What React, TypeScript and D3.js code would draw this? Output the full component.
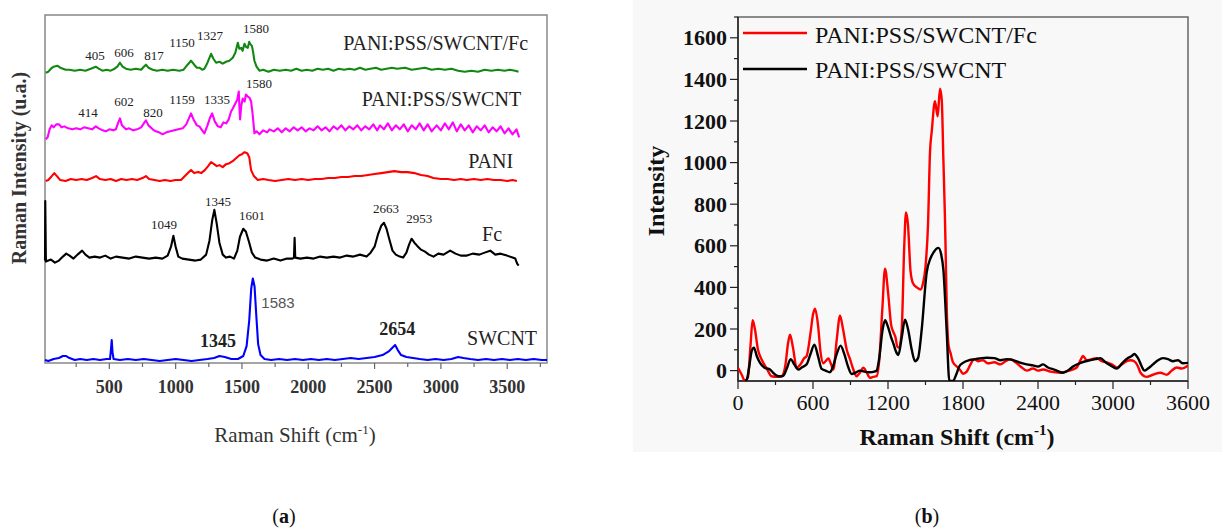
import React from "react";
import * as d3 from "d3";

type Pt = [number, number];

// ---------- panel (a): stacked Raman spectra (intensity above own baseline, a.u.) ----------
const swcnt: Pt[] = [
  [15, 0], [40, -1], [80, 1], [120, 2], [150, 4], [175, 4], [200, 2], [240, 0], [280, 1], [330, 0],
  [380, 1], [430, 0], [480, 1], [505, 1], [512, 10], [518, 20], [524, 8], [532, 1], [580, 0], [640, 1],
  [700, 0], [760, 1], [820, 0], [880, -1], [940, 0], [1000, 1], [1060, 0], [1120, -1], [1180, 0], [1240, 1],
  [1290, 2], [1330, 4], [1370, 3], [1420, 1], [1470, 1], [1510, 4], [1535, 14], [1555, 40], [1570, 72], [1582, 82],
  [1595, 74], [1608, 45], [1622, 16], [1640, 5], [1670, 1], [1720, 0], [1780, 1], [1840, 0], [1900, 1], [1960, 0],
  [2020, 1], [2080, 0], [2140, 1], [2200, 0], [2260, 1], [2320, 2], [2380, 1], [2440, 2], [2500, 3], [2560, 5],
  [2610, 9], [2640, 13], [2655, 15], [2675, 10], [2700, 5], [2740, 3], [2790, 2], [2840, 1], [2900, 0], [2960, 1],
  [3020, 0], [3080, 1], [3130, 3], [3170, 2], [3220, 1], [3280, 0], [3340, 1], [3400, 0], [3460, 1], [3520, 0],
  [3580, 1], [3640, 0], [3700, 1], [3760, 0], [3800, 0],
];

const fc: Pt[] = [
  [15, -2], [17, 58], [22, -3], [40, -2], [60, -1], [90, -4], [120, -2], [150, 2], [175, 5], [200, 3],
  [230, 0], [260, 4], [295, 8], [320, 4], [350, 1], [390, 2], [430, 1], [470, 3], [510, 0], [550, 2],
  [600, 1], [650, 0], [700, 2], [750, 1], [800, 0], [850, 1], [900, 0], [940, 3], [965, 12], [983, 23],
  [1000, 12], [1020, 2], [1050, 0], [1100, -1], [1150, -2], [1190, -1], [1230, 4], [1255, 18], [1275, 38], [1292, 49],
  [1310, 35], [1330, 16], [1355, 4], [1380, 1], [1410, 2], [1440, 0], [1465, 8], [1485, 22], [1510, 30], [1530, 27],
  [1555, 16], [1575, 6], [1600, 1], [1640, -1], [1690, -2], [1740, 0], [1790, -2], [1840, 0], [1880, 0], [1892, 1],
  [1897, 21], [1902, 1], [1940, 0], [1990, 1], [2040, 0], [2090, 2], [2140, 1], [2190, 2], [2240, 1], [2290, 3],
  [2340, 2], [2390, 4], [2440, 2], [2470, 6], [2500, 12], [2525, 24], [2550, 33], [2571, 36], [2590, 30], [2610, 20],
  [2635, 8], [2660, 4], [2690, 2], [2715, 1], [2740, 6], [2760, 14], [2779, 20], [2800, 16], [2820, 13], [2850, 9],
  [2880, 7], [2910, 4], [2944, 2], [2980, 5], [3020, 4], [3070, 8], [3110, 5], [3150, 3], [3196, 3], [3240, 5],
  [3290, 4], [3330, 6], [3372, 8], [3410, 4], [3450, 5], [3498, 3], [3540, 1], [3561, 0], [3575, -5], [3586, -7],
];

const pani: Pt[] = [
  [20, 0], [40, 1], [60, 4], [85, 8], [105, 5], [130, 1], [170, 0], [210, 2], [250, 1], [290, 2],
  [330, 1], [370, 3], [400, 5], [430, 2], [470, 1], [510, 2], [550, 0], [590, 2], [630, 1], [670, 2],
  [710, 1], [750, 3], [776, 5], [800, 2], [840, 1], [880, 0], [920, 1], [960, 0], [1000, 1], [1040, 1],
  [1070, 5], [1100, 9], [1116, 11], [1140, 8], [1170, 9], [1192, 8], [1220, 11], [1245, 15], [1267, 19], [1290, 17],
  [1310, 15], [1330, 16], [1355, 14], [1380, 17], [1406, 18], [1430, 20], [1455, 23], [1481, 26], [1500, 27], [1520, 29],
  [1540, 28], [1555, 24], [1569, 11], [1590, 5], [1620, 1], [1660, 2], [1700, 1], [1750, 0], [1800, 1], [1850, 2],
  [1900, 1], [1950, 2], [2000, 1], [2050, 2], [2100, 2], [2150, 3], [2200, 3], [2250, 4], [2300, 4], [2350, 5],
  [2400, 5], [2450, 6], [2500, 7], [2550, 8], [2600, 9], [2650, 10], [2700, 9], [2750, 9], [2800, 8], [2850, 6],
  [2900, 5], [2943, 3], [3000, 2], [3050, 2], [3100, 1], [3150, 2], [3195, 1], [3250, 2], [3300, 1], [3350, 2],
  [3400, 1], [3450, 1], [3500, 0], [3540, 1], [3573, 0],
];

const paniPssSwcnt: Pt[] = [
  [20, -8], [35, -6], [50, 2], [65, 6], [80, 4], [100, 7], [121, 7], [140, 4], [160, 5], [190, 3],
  [222, 2], [250, 3], [280, 2], [310, 4], [340, 3], [370, 2], [398, 5], [420, 3], [450, 1], [474, 0],
  [500, 2], [530, 1], [549, 2], [565, 8], [580, 13], [595, 6], [625, 2], [650, 3], [680, 1], [710, 2],
  [740, 4], [760, 8], [776, 11], [795, 6], [827, 2], [850, 0], [875, -1], [902, -3], [930, -1], [960, 0],
  [990, 1], [1020, 2], [1053, 3], [1080, 7], [1100, 13], [1116, 18], [1135, 12], [1160, 6], [1179, 5], [1200, 1],
  [1217, -2], [1240, 6], [1260, 14], [1275, 18], [1295, 10], [1318, 5], [1340, 4], [1360, 9], [1381, 8], [1400, 12],
  [1418, 20], [1431, 23], [1450, 28], [1465, 32], [1476, 40], [1481, 24], [1486, 12], [1495, 26], [1506, 33], [1520, 30],
  [1530, 37], [1544, 35], [1556, 34], [1569, 30], [1580, 18], [1594, -2], [1610, 0], [1632, -3], [1660, 1], [1690, -1],
  [1708, 2], [1740, 0], [1770, 3], [1800, -1], [1830, 3], [1860, 0], [1890, 4], [1920, 1], [1950, 4], [1980, 0],
  [2010, 3], [2040, 1], [2070, 5], [2100, 1], [2130, 4], [2160, 0], [2190, 5], [2220, 2], [2250, 6], [2280, 1],
  [2310, 5], [2340, 2], [2370, 6], [2400, 1], [2430, 5], [2460, 2], [2490, 7], [2520, 1], [2541, 6], [2570, 2],
  [2600, 8], [2630, 1], [2660, 6], [2690, 2], [2720, 7], [2750, 0], [2780, 6], [2810, 2], [2840, 8], [2870, 1],
  [2900, 7], [2930, 0], [2968, 6], [3000, 1], [3030, 8], [3060, 2], [3090, 9], [3120, 0], [3150, 7], [3180, 1],
  [3210, 6], [3240, -1], [3270, 5], [3300, 1], [3330, 6], [3360, -1], [3390, 4], [3420, 0], [3450, 5], [3480, -2],
  [3510, 3], [3540, -3], [3570, 2], [3590, -6],
];

const paniPssSwcntFc: Pt[] = [
  [20, -2], [40, -1], [60, 2], [80, 4], [108, 5], [130, 3], [171, 1], [200, 1], [240, 0], [280, 1],
  [320, 0], [360, 2], [398, 4], [420, 2], [448, 0], [480, 1], [510, 0], [540, 2], [560, 4], [580, 8],
  [600, 4], [625, 2], [660, 1], [700, 2], [740, 1], [760, 4], [776, 6], [795, 3], [827, 1], [860, 0],
  [900, 1], [940, 0], [980, 1], [1028, 0], [1060, 1], [1090, 6], [1116, 10], [1140, 6], [1160, 3], [1179, 3],
  [1200, 1], [1217, 2], [1240, 8], [1267, 17], [1285, 12], [1305, 8], [1330, 9], [1355, 7], [1380, 9], [1405, 10],
  [1431, 13], [1450, 18], [1469, 28], [1480, 22], [1494, 23], [1505, 20], [1519, 27], [1530, 24], [1544, 23], [1555, 29],
  [1562, 27], [1575, 25], [1585, 18], [1594, 10], [1610, 4], [1632, 0], [1660, 1], [1700, -1], [1740, 1], [1785, 0],
  [1830, 1], [1870, 0], [1910, 2], [1950, 0], [1990, 1], [2030, 0], [2070, 2], [2110, 1], [2150, 2], [2190, 0],
  [2230, 2], [2270, 1], [2310, 2], [2350, 1], [2390, 3], [2430, 1], [2470, 2], [2510, 3], [2550, 1], [2590, 2],
  [2630, 3], [2670, 2], [2730, 3], [2780, 1], [2830, 2], [2880, 3], [2930, 1], [2980, 2], [3030, 1], [3080, 2],
  [3130, 0], [3180, -1], [3230, 0], [3280, -1], [3330, 1], [3380, 0], [3430, 1], [3480, 0], [3520, 1], [3560, 0],
  [3585, -1],
];

const stackSeries = [
  { name: "SWCNT", data: swcnt, offset: 3, color: "#0000ff" },
  { name: "Fc", data: fc, offset: 105, color: "#000000" },
  { name: "PANI", data: pani, offset: 183, color: "#ff0000" },
  { name: "PANI:PSS/SWCNT", data: paniPssSwcnt, offset: 233, color: "#ff00ff" },
  { name: "PANI:PSS/SWCNT/Fc", data: paniPssSwcntFc, offset: 294, color: "#118811" },
];

// series names, right aligned: [text, shift end, level]
const seriesNames: [string, number, number][] = [
  ["PANI:PSS/SWCNT/Fc", 3657, 315],
  ["PANI:PSS/SWCNT", 3605, 258],
  ["PANI", 3544, 196],
  ["Fc", 3461, 123],
  ["SWCNT", 3725, 18],
];

// peak annotations: [text, shift, level]
const peakLabels: [string, number, number][] = [
  ["405", 392, 305], ["606", 611, 308], ["817", 837, 305], ["1150", 1048, 318], ["1327", 1259, 325], ["1580", 1606, 332],
  ["414", 339, 247], ["602", 611, 258], ["820", 829, 247], ["1159", 1048, 260], ["1335", 1312, 260], ["1580", 1629, 277],
  ["1049", 912, 135], ["1345", 1320, 158], ["1601", 1576, 144], ["2663", 2587, 151], ["2953", 2836, 141],
];
const swcntLabelsBold: [string, number, number][] = [["1345", 1320, 16], ["2654", 2670, 28]];
const swcntLabelGray: [string, number, number] = ["1583", 1772, 55];

// ---------- panel (b) ----------
const bRed: Pt[] = [
  [0, 14], [30, -20], [56, -50], [80, -30], [100, 120], [117, 242], [135, 200], [160, 100], [189, 53], [230, 10],
  [269, -27], [310, -30], [349, -27], [380, 30], [400, 130], [416, 173], [440, 110], [469, 14], [500, 30], [530, 60],
  [549, 70], [580, 180], [600, 270], [616, 298], [640, 220], [660, 90], [683, 35], [700, 45], [723, 58], [745, 30],
  [763, 5], [790, 150], [816, 264], [840, 200], [870, 100], [896, 55], [920, 10], [949, -27], [975, -10], [1003, 14],
  [1030, -10], [1056, -35], [1080, -30], [1109, -27], [1130, 50], [1155, 300], [1176, 490], [1200, 380], [1225, 220], [1243, 185],
  [1260, 160], [1275, 115], [1290, 110], [1310, 200], [1330, 600], [1344, 760], [1360, 700], [1380, 480], [1400, 420], [1430, 400],
  [1460, 390], [1480, 420], [1500, 500], [1520, 700], [1536, 1050], [1550, 1150], [1576, 1295], [1597, 1222], [1616, 1355], [1630, 1300],
  [1643, 1015], [1655, 750], [1661, 580], [1670, 300], [1685, 120], [1700, 85], [1720, 40], [1750, 20], [1780, 0], [1800, -15],
  [1830, -5], [1860, 30], [1890, 55], [1920, 45], [1960, 50], [2000, 35], [2050, 40], [2100, 30], [2140, 45], [2180, 55],
  [2220, 40], [2260, 20], [2310, 0], [2360, 10], [2400, 0], [2440, 5], [2500, -5], [2580, -10], [2650, 0], [2710, 15],
  [2740, 50], [2760, 70], [2790, 50], [2830, 55], [2870, 60], [2910, 45], [2950, 40], [2990, 30], [3030, 15], [3070, 30],
  [3110, 45], [3140, 50], [3170, 45], [3200, 20], [3220, -10], [3270, -30], [3320, -20], [3380, -10], [3430, -20], [3470, 0],
  [3510, 15], [3550, 10], [3600, 25],
];

const bBlack: Pt[] = [
  [56, -50], [72, -40], [90, 20], [110, 95], [128, 110], [150, 70], [176, 37], [210, 15], [256, 5], [280, -10],
  [309, -24], [340, -28], [363, -24], [390, 10], [421, 55], [450, 30], [483, 5], [510, 15], [549, 30], [580, 80],
  [611, 125], [640, 70], [669, 8], [700, 0], [736, -8], [760, 20], [790, 80], [821, 120], [850, 80], [880, 20],
  [909, -16], [940, -10], [976, 0], [1010, -5], [1056, -8], [1090, -5], [1109, 0], [1130, 60], [1155, 190], [1176, 242],
  [1200, 210], [1225, 160], [1243, 130], [1265, 90], [1283, 75], [1310, 160], [1336, 245], [1360, 200], [1390, 100], [1416, 45],
  [1440, 60], [1470, 200], [1509, 470], [1540, 540], [1563, 567], [1603, 590], [1625, 560], [1643, 485], [1669, 197], [1691, -50],
  [1720, -50], [1745, -20], [1770, 20], [1800, 37], [1850, 50], [1900, 55], [1950, 60], [1990, 62], [2050, 60], [2100, 50],
  [2150, 55], [2200, 50], [2250, 40], [2310, 30], [2360, 25], [2400, 20], [2440, 30], [2480, 15], [2530, 5], [2600, -10],
  [2640, 0], [2680, 20], [2740, 37], [2780, 45], [2820, 50], [2860, 55], [2900, 60], [2940, 40], [2980, 25], [3030, 10],
  [3080, 40], [3120, 60], [3150, 70], [3170, 80], [3200, 60], [3230, 20], [3250, 0], [3280, 10], [3320, 30], [3360, 50],
  [3400, 60], [3440, 55], [3480, 45], [3520, 50], [3560, 35], [3600, 37],
];

const bSeries = [
  { name: "PANI:PSS/SWCNT/Fc", data: bRed, color: "#ff0000" },
  { name: "PANI:PSS/SWCNT", data: bBlack, color: "#000000" },
];

const FONT = "'Liberation Serif', 'Times New Roman', serif";

const xA = d3.scaleLinear().domain([15, 3800]).range([45, 547]);
const yA = d3.scaleLinear().domain([0, 350]).range([363, 15]);
const xB = d3.scaleLinear().domain([0, 3600]).range([738, 1188]);
const yB = d3.scaleLinear().domain([-50, 1700]).range([381, 17]);

const App = () => {
  const aTicks = d3.range(250, 3800, 250);
  const bxTicks = d3.range(0, 3601, 300);
  const byTicks = d3.range(0, 1701, 100);
  const lineB = d3
    .line<Pt>()
    .x((d) => xB(d[0]))
    .y((d) => yB(d[1]))
    .curve(d3.curveMonotoneX);

  return (
    <svg
      width={1222}
      height={529}
      style={{ position: "absolute", left: 0, top: 0, background: "#fff" }}
      fontFamily={FONT}
    >
      <defs>
        <clipPath id="clipB">
          <rect x={xB(0)} y={yB(1700)} width={xB(3600) - xB(0)} height={yB(-50) - yB(1700)} />
        </clipPath>
      </defs>

      {/* ---------------- panel (a) ---------------- */}
      <rect x={45} y={15} width={502} height={348} fill="none" stroke="#888" strokeWidth={1.5} />
      {aTicks.map((t) => (
        <line key={t} x1={xA(t)} x2={xA(t)} y1={363} y2={t % 500 === 0 ? 369 : 367} stroke="#666" strokeWidth={1.2} />
      ))}
      {aTicks
        .filter((t) => t % 500 === 0)
        .map((t) => (
          <text key={t} x={xA(t)} y={393} textAnchor="middle" fontSize={18} fontWeight="bold" fill="#333">
            {t}
          </text>
        ))}
      {stackSeries.map((s) => {
        const line = d3
          .line<Pt>()
          .x((d) => xA(d[0]))
          .y((d) => yA(d[1] + s.offset));
        return <path key={s.name} d={line(s.data) || ""} fill="none" stroke={s.color} strokeWidth={2.1} strokeLinejoin="round" />;
      })}
      {seriesNames.map(([t, x, y]) => (
        <text key={t} x={xA(x)} y={yA(y)} textAnchor="end" fontSize={20} fill="#222">
          {t}
        </text>
      ))}
      {peakLabels.map(([t, x, y], i) => (
        <text key={i} x={xA(x)} y={yA(y)} textAnchor="middle" fontSize={13} fill="#222">
          {t}
        </text>
      ))}
      {swcntLabelsBold.map(([t, x, y]) => (
        <text key={t} x={xA(x)} y={yA(y)} textAnchor="middle" fontSize={18} fontWeight="bold" fill="#222">
          {t}
        </text>
      ))}
      <text x={xA(swcntLabelGray[1])} y={yA(swcntLabelGray[2])} textAnchor="middle" fontSize={15} fill="#555" fontFamily="'Liberation Sans', Arial, sans-serif">
        {swcntLabelGray[0]}
      </text>
      <text transform="translate(26,168) rotate(-90)" textAnchor="middle" fontSize={20} fontWeight="bold" fill="#333">
        Raman Intensity (u.a.)
      </text>
      <text x={295} y={442} textAnchor="middle" fontSize={21} fill="#333">
        Raman Shift (cm
        <tspan fontSize={13} dy={-8}>-1</tspan>
        <tspan dy={8}>)</tspan>
      </text>

      {/* ---------------- panel (b) ---------------- */}
      <rect x={633} y={0} width={589} height={452} fill="#f8f8f8" />
      <rect x={738} y={17} width={450} height={364} fill="none" stroke="#666" strokeWidth={1.5} />
      <line x1={738} x2={738} y1={17} y2={381} stroke="#222" strokeWidth={1.5} />
      <line x1={738} x2={1188} y1={381} y2={381} stroke="#222" strokeWidth={1.5} />
      {byTicks.map((t) => (
        <line key={t} x1={738} x2={t % 200 === 0 ? 730 : 734} y1={yB(t)} y2={yB(t)} stroke="#222" strokeWidth={1.2} />
      ))}
      {byTicks
        .filter((t) => t % 200 === 0)
        .map((t) => (
          <text key={t} x={727} y={yB(t) + 7.5} textAnchor="end" fontSize={22} fontWeight="bold" fill="#111">
            {t}
          </text>
        ))}
      {bxTicks.map((t) => (
        <line key={t} x1={xB(t)} x2={xB(t)} y1={381} y2={t % 600 === 0 ? 389 : 385} stroke="#222" strokeWidth={1.2} />
      ))}
      {bxTicks
        .filter((t) => t % 600 === 0)
        .map((t) => (
          <text key={t} x={xB(t)} y={410} textAnchor="middle" fontSize={22} fill="#111">
            {t}
          </text>
        ))}
      <g clipPath="url(#clipB)">
        {bSeries.map((s) => (
          <path key={s.name} d={lineB(s.data) || ""} fill="none" stroke={s.color} strokeWidth={2.4} strokeLinejoin="round" />
        ))}
      </g>
      {bSeries.map((s, i) => (
        <g key={s.name}>
          <line x1={743} x2={807} y1={33 + i * 36} y2={33 + i * 36} stroke={s.color} strokeWidth={2.4} />
          <text x={815} y={43 + i * 35} fontSize={24} fill="#111">
            {s.name}
          </text>
        </g>
      ))}
      <text transform="translate(664,191) rotate(-90)" textAnchor="middle" fontSize={24} fontWeight="bold" fill="#111">
        Intensity
      </text>
      <text x={957} y={445} textAnchor="middle" fontSize={24} fontWeight="bold" fill="#111">
        Raman Shift (cm
        <tspan fontSize={15} dy={-10}>-1</tspan>
        <tspan dy={10}>)</tspan>
      </text>

      {/* captions */}
      <text x={284} y={523} textAnchor="middle" fontSize={20} fill="#111">
        (<tspan fontWeight="bold">a</tspan>)
      </text>
      <text x={927} y={523} textAnchor="middle" fontSize={20} fill="#111">
        (<tspan fontWeight="bold">b</tspan>)
      </text>
    </svg>
  );
};

export default App;
